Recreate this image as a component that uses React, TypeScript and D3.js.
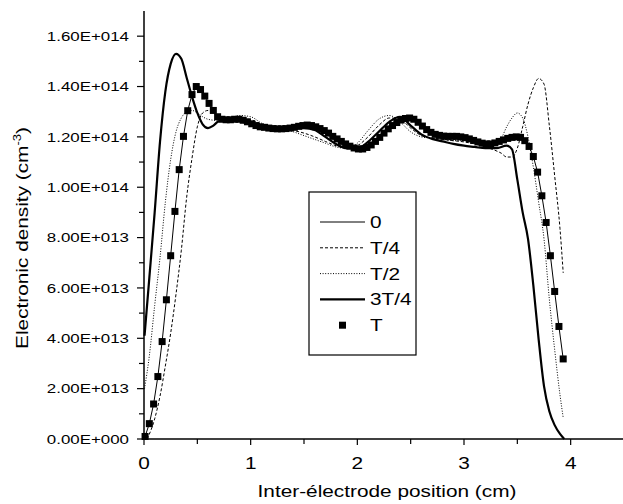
import React from "react";
import * as d3 from "d3";

// Electron density profiles across the gap at five instants of the RF period.
// Densities are in units of 1e13 cm^-3, positions in cm.

const yTickValues = [0, 2, 4, 6, 8, 10, 12, 14, 16];
const yTickLabels = [
  "0.00E+000", "2.00E+013", "4.00E+013", "6.00E+013", "8.00E+013",
  "1.00E+014", "1.20E+014", "1.40E+014", "1.60E+014",
];
const yMinorValues = [1, 3, 5, 7, 9, 11, 13, 15];
const xTickValues = [0, 1, 2, 3, 4];
const xTickLabels = ["0", "1", "2", "3", "4"];
const xMinorValues = [0.5, 1.5, 2.5, 3.5];

// t = T (square markers)
const posT = [
  0.01, 0.05, 0.09, 0.13, 0.17, 0.21, 0.25, 0.29, 0.33, 0.37,
  0.41, 0.45, 0.49, 0.53, 0.57, 0.61, 0.65, 0.69, 0.73, 0.77,
  0.81, 0.85, 0.89, 0.93, 0.97, 1.01, 1.05, 1.09, 1.13, 1.17,
  1.21, 1.25, 1.29, 1.33, 1.37, 1.41, 1.45, 1.49, 1.53, 1.57,
  1.61, 1.65, 1.69, 1.73, 1.77, 1.81, 1.85, 1.89, 1.93, 1.97,
  2.01, 2.05, 2.09, 2.13, 2.17, 2.21, 2.25, 2.29, 2.33, 2.37,
  2.41, 2.45, 2.49, 2.53, 2.57, 2.61, 2.65, 2.69, 2.73, 2.77,
  2.81, 2.85, 2.89, 2.93, 2.97, 3.01, 3.05, 3.09, 3.13, 3.17,
  3.21, 3.25, 3.29, 3.33, 3.37, 3.41, 3.45, 3.49, 3.53, 3.57,
  3.61, 3.65, 3.69, 3.73, 3.77, 3.81, 3.85, 3.89, 3.93,
];
const densityT = [
  0.1, 0.61, 1.39, 2.48, 3.87, 5.53, 7.28, 9.04, 10.7, 12.02,
  13.04, 13.68, 14.0, 13.88, 13.62, 13.33, 13.05, 12.8, 12.7, 12.68,
  12.68, 12.7, 12.7, 12.66, 12.6, 12.52, 12.45, 12.4, 12.38, 12.35,
  12.33, 12.32, 12.32, 12.33, 12.35, 12.38, 12.42, 12.45, 12.47, 12.45,
  12.4, 12.33, 12.25, 12.15, 12.02, 11.92, 11.82, 11.72, 11.63, 11.56,
  11.52, 11.52, 11.58, 11.68, 11.82, 11.98, 12.15, 12.32, 12.45, 12.57,
  12.67, 12.73, 12.75, 12.7, 12.58, 12.43, 12.29, 12.18, 12.1, 12.06,
  12.03, 12.02, 12.02, 12.02, 12.0, 11.97, 11.92, 11.86, 11.8, 11.75,
  11.72, 11.72, 11.76, 11.82, 11.88, 11.94, 11.98, 12.0, 11.98, 11.85,
  11.62, 11.22, 10.6, 9.66, 8.6, 7.28, 5.86, 4.47, 3.18,
];

// t = 0 is the same state as t = T (periodic regime)
const pos0 = posT;
const density0 = densityT;

// t = T/4 (dashed)
const posT4 = [
  0.03, 0.1, 0.15, 0.2, 0.25, 0.3, 0.35, 0.4, 0.45, 0.5,
  0.55, 0.6, 0.65, 0.7, 0.8, 0.9, 1.0, 1.1, 1.2, 1.3,
  1.4, 1.5, 1.6, 1.7, 1.8, 1.9, 2.0, 2.1, 2.2, 2.3,
  2.4, 2.5, 2.6, 2.7, 2.8, 2.9, 3.0, 3.1, 3.2, 3.3,
  3.35, 3.4, 3.45, 3.5, 3.55, 3.6, 3.65, 3.7, 3.75, 3.8,
  3.85, 3.9, 3.93,
];
const densityT4 = [
  0.0, 0.8, 1.7, 2.9, 4.2, 5.75, 7.5, 9.6, 11.15, 12.4,
  12.95, 13.05, 12.95, 12.8, 12.7, 12.72, 12.68, 12.5, 12.35, 12.3,
  12.25, 12.15, 12.0, 11.82, 11.65, 11.55, 11.65, 12.0, 12.45, 12.75,
  12.7, 12.35, 12.05, 11.95, 11.9, 11.85, 11.8, 11.72, 11.6, 11.45,
  11.35, 11.2, 11.2, 11.55, 12.4, 13.3, 13.95, 14.32, 14.1, 12.45,
  10.45, 8.35, 6.6,
];

// t = T/2 (dotted)
const posT2 = [
  0.005, 0.05, 0.1, 0.15, 0.2, 0.25, 0.3, 0.35, 0.4, 0.45,
  0.5, 0.55, 0.6, 0.7, 0.8, 0.9, 1.0, 1.1, 1.2, 1.3,
  1.4, 1.5, 1.6, 1.7, 1.8, 1.9, 2.0, 2.1, 2.2, 2.3,
  2.4, 2.5, 2.6, 2.7, 2.8, 2.9, 3.0, 3.1, 3.2, 3.3,
  3.35, 3.4, 3.45, 3.5, 3.55, 3.6, 3.65, 3.7, 3.75, 3.8,
  3.85, 3.9, 3.93,
];
const densityT2 = [
  2.0, 3.3, 5.3, 7.2, 9.4, 11.1, 12.2, 12.75, 13.0, 13.05,
  12.95, 12.8, 12.7, 12.65, 12.72, 12.85, 12.8, 12.55, 12.35, 12.3,
  12.2, 12.05, 11.9, 11.75, 11.6, 11.55, 11.75, 12.25, 12.7, 12.85,
  12.6, 12.2, 12.0, 11.95, 11.9, 11.85, 11.85, 11.85, 11.8, 11.75,
  11.95, 12.4, 12.75, 12.95, 12.75, 12.0, 10.8, 9.4, 7.95, 5.55,
  3.55, 1.75, 0.85,
];

// t = 3T/4 (thick solid)
const posT34 = [
  0.005, 0.05, 0.1, 0.15, 0.2, 0.25, 0.3, 0.35, 0.4, 0.45,
  0.5, 0.55, 0.6, 0.65, 0.7, 0.8, 0.9, 1.0, 1.1, 1.2,
  1.3, 1.4, 1.5, 1.6, 1.7, 1.8, 1.9, 2.0, 2.1, 2.2,
  2.3, 2.4, 2.5, 2.6, 2.7, 2.8, 2.9, 3.0, 3.1, 3.2,
  3.3, 3.4, 3.45, 3.5, 3.55, 3.6, 3.65, 3.7, 3.75, 3.8,
  3.85, 3.9, 3.94,
];
const densityT34 = [
  4.1, 6.4, 9.0, 11.8, 13.8, 14.9, 15.3, 15.1, 14.35, 13.6,
  12.95, 12.5, 12.35, 12.45, 12.62, 12.68, 12.62, 12.5, 12.38, 12.3,
  12.3, 12.33, 12.35, 12.28, 12.0, 11.72, 11.55, 11.55, 11.8, 12.2,
  12.6, 12.8, 12.45, 12.1, 11.92, 11.82, 11.72, 11.65, 11.6, 11.55,
  11.55, 11.65, 11.5, 10.3, 9.0, 7.95, 6.1, 3.95, 2.1, 1.1,
  0.55, 0.2, 0.0,
];

const legendLabels = ["0", "T/4", "T/2", "3T/4", "T"];

const W = 623;
const H = 504;
const FONT = "'Liberation Sans', Arial, Helvetica, sans-serif";
// the lettering is set in a wide sans face
const STRETCH = 1.3;

export default function App() {
  const x = d3.scaleLinear().domain([0, 4.5]).range([144, 624]);
  const y = d3.scaleLinear().domain([0, 17]).range([439, 11]);

  const mkLine = (xs: number[], vs: number[], curve: d3.CurveFactory) =>
    d3
      .line<number>()
      .x((_, i) => x(xs[i]))
      .y((v) => y(v))
      .curve(curve)(vs) || "";

  const path0 = mkLine(pos0, density0, d3.curveLinear);
  const pathT4 = mkLine(posT4, densityT4, d3.curveMonotoneX);
  const pathT2 = mkLine(posT2, densityT2, d3.curveMonotoneX);
  const pathT34 = mkLine(posT34, densityT34, d3.curveMonotoneX);

  const x0 = x(0);
  const yBase = y(0);

  const legendStyles = [
    { w: 1, dash: "none" },
    { w: 1, dash: "3,2" },
    { w: 1, dash: "1,1.6" },
    { w: 2.2, dash: "none" },
  ];
  const legendX = 309;
  const legendY = 192;
  const legendRowY = (i: number) => 222 + i * 25.8;

  return (
    <svg
      width={W}
      height={H}
      style={{ position: "absolute", left: 0, top: 0, background: "#fff" }}
      fontFamily={FONT}
    >
      <rect width={W} height={H} fill="#fff" />

      {/* curves */}
      <path d={pathT2} fill="none" stroke="#000" strokeWidth={1} strokeDasharray="1,1.6" />
      <path d={pathT4} fill="none" stroke="#000" strokeWidth={1} strokeDasharray="3,2" />
      <path d={pathT34} fill="none" stroke="#000" strokeWidth={2.2} />
      <path d={path0} fill="none" stroke="#000" strokeWidth={1} />
      {densityT.map((v, i) => (
        <rect key={i} x={x(posT[i]) - 3.5} y={y(v) - 3.5} width={7} height={7} fill="#000" />
      ))}

      {/* axes */}
      <line x1={x0} x2={x0} y1={y(17)} y2={yBase} stroke="#000" strokeWidth={1.5} />
      <line x1={x0} x2={W} y1={yBase} y2={yBase} stroke="#000" strokeWidth={1.5} />
      {yTickValues.map((v, i) => (
        <g key={"yt" + i}>
          <line x1={x0 - 7} x2={x0} y1={y(v)} y2={y(v)} stroke="#000" strokeWidth={1.2} />
          <text
            transform={`translate(${x0 - 15},${y(v) + 4.7}) scale(${STRETCH},1)`}
            textAnchor="end"
            fontSize={13}
          >
            {yTickLabels[i]}
          </text>
        </g>
      ))}
      {yMinorValues.map((v, i) => (
        <line key={"ym" + i} x1={x0 - 5} x2={x0} y1={y(v)} y2={y(v)} stroke="#000" strokeWidth={1.2} />
      ))}
      {xTickValues.map((v, i) => (
        <g key={"xt" + i}>
          <line x1={x(v)} x2={x(v)} y1={yBase} y2={yBase + 6} stroke="#000" strokeWidth={1.2} />
          <text
            transform={`translate(${x(v)},${yBase + 30}) scale(${STRETCH},1)`}
            textAnchor="middle"
            fontSize={16}
          >
            {xTickLabels[i]}
          </text>
        </g>
      ))}
      {xMinorValues.map((v, i) => (
        <line key={"xm" + i} x1={x(v)} x2={x(v)} y1={yBase} y2={yBase + 5} stroke="#000" strokeWidth={1.2} />
      ))}

      {/* axis titles */}
      <text
        transform={`translate(387,497) scale(${STRETCH},1)`}
        textAnchor="middle"
        fontSize={16}
      >
        Inter-électrode position (cm)
      </text>
      <text
        transform={`translate(28,238) rotate(-90) scale(${STRETCH},1)`}
        textAnchor="middle"
        fontSize={16}
      >
        Electronic density (cm
        <tspan fontSize={10} dy={-7}>-3</tspan>
        <tspan dy={7}>)</tspan>
      </text>

      {/* legend */}
      <rect x={legendX} y={legendY} width={107} height={163} fill="#fff" stroke="#000" strokeWidth={1.2} />
      {legendLabels.map((lab, i) => {
        const ly = legendRowY(i);
        return (
          <g key={"lg" + i}>
            {i < 4 ? (
              <line
                x1={320}
                x2={365}
                y1={ly}
                y2={ly}
                stroke="#000"
                strokeWidth={legendStyles[i].w}
                strokeDasharray={legendStyles[i].dash}
              />
            ) : (
              <rect x={342.5 - 3.5} y={ly - 3.5} width={7} height={7} fill="#000" />
            )}
            <text
              transform={`translate(370,${ly + 6}) scale(${STRETCH},1)`}
              fontSize={16}
            >
              {lab}
            </text>
          </g>
        );
      })}
    </svg>
  );
}
